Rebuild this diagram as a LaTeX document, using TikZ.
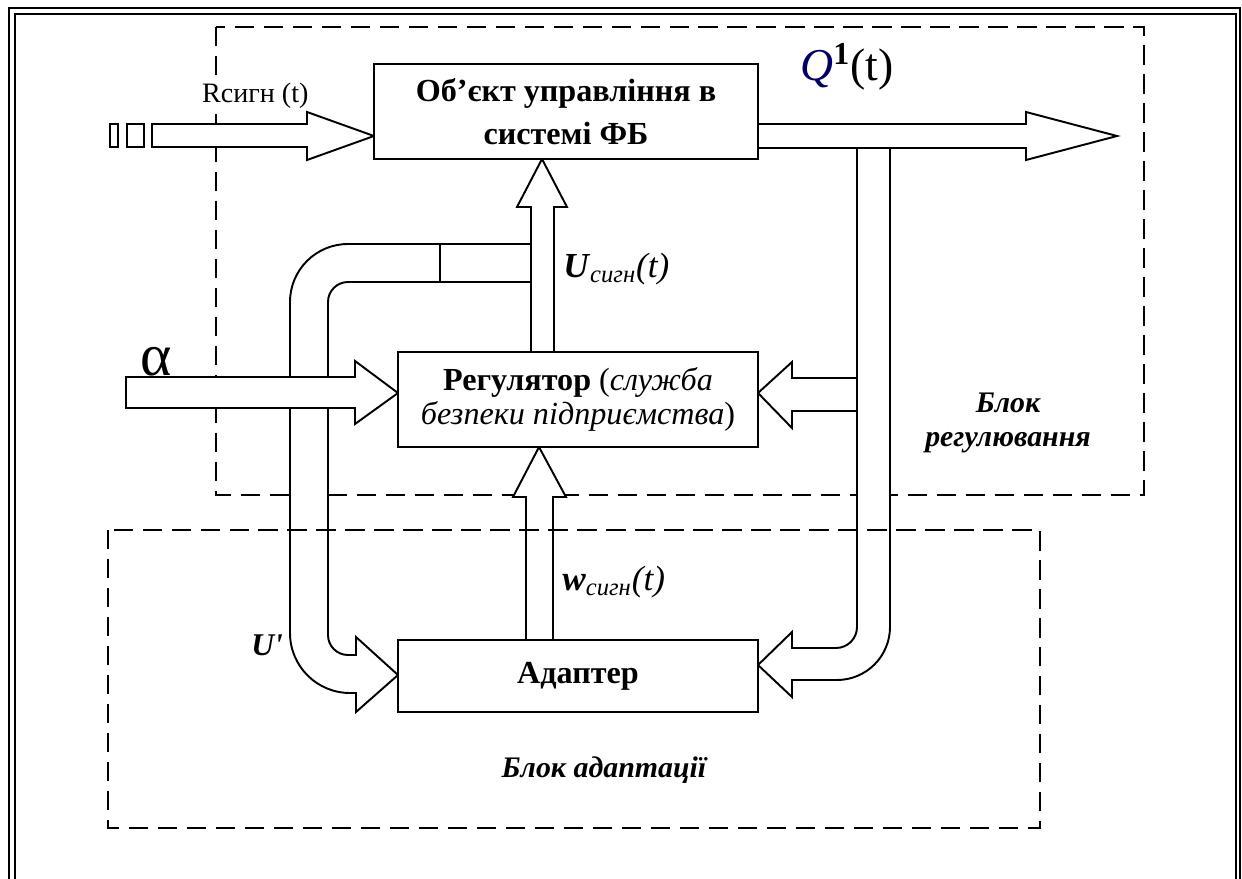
\documentclass[tikz,border=0pt]{standalone}
\usepackage{fontspec}
\setmainfont{Liberation Serif}
\usetikzlibrary{calc}
\tikzset{
  blk/.style={draw, fill=white, line width=1.1pt, inner sep=0pt, align=center},
  fat/.style={draw, fill=white, line width=1.1pt, line join=miter},
  zone/.style={line width=1.1pt, dash pattern=on 11pt off 5.5pt},
  lbl/.style={inner sep=0pt, anchor=base west},
}

\begin{document}
\begin{tikzpicture}[x=0.02cm,y=-0.02cm]
\useasboundingbox (0,0) rectangle (1242,879);
% frame
\draw[line width=1pt] (9,879)--(9,8)--(1240,8)--(1240,879);
\draw[line width=1pt] (15,879)--(15,14)--(1236,14)--(1236,879);
% control block
\draw[zone] (216,27) rectangle (1144,495);
% feedback pipes
\draw[fat] (531,244) -- (348,244) arc (270:180:58) -- (290,633) arc (180:90:60)
  -- (356,693) -- (356,712) -- (398,675) -- (356,637) -- (356,655) -- (348,655)
  arc (90:180:20) -- (328,302) arc (180:270:20) -- (531,282) -- cycle;
\draw[line width=1.1pt] (440,244) -- (440,282);
\draw[fat] (857,148) -- (890,148) -- (890,627) arc (0:90:53) -- (792,680)
  -- (792,697) -- (758,665) -- (792,632) -- (792,648) -- (836,648)
  arc (90:0:21) -- cycle;
\draw[fat] (857,378) -- (792,378) -- (792,362) -- (758,393) -- (792,428) -- (792,411) -- (857,411) -- cycle;
% inputs and output
\draw[fat] (110,124) rectangle (118,147);
\draw[fat] (127,124) rectangle (144,147);
\draw[fat] (152,124) -- (307,124) -- (307,112) -- (374,136) -- (307,160) -- (307,147) -- (152,147) -- cycle;
\draw[fat] (758,124) -- (1026,124) -- (1026,112) -- (1117,136) -- (1026,160) -- (1026,148) -- (758,148) -- cycle;
\draw[fat] (126,377) -- (355,377) -- (355,361) -- (398,393) -- (355,424) -- (355,408) -- (126,408) -- cycle;
% vertical signals
\draw[fat] (531,352) -- (531,207) -- (517,207) -- (542,159) -- (567,207) -- (554,207) -- (554,352) -- cycle;
\draw[fat] (526,640) -- (526,497) -- (513,497) -- (539,447) -- (566,497) -- (553,497) -- (553,640) -- cycle;
% blocks
\node[blk, minimum width=7.68cm, minimum height=1.9cm,
  font=\fontsize{18.3}{24.5}\selectfont\bfseries] (obj) at (566,111.5)
  {Об’єкт управління в\\системі ФБ};
\node[blk, minimum width=7.2cm, minimum height=1.9cm,
  font=\fontsize{18.3}{19.5}\selectfont] (reg) at (578,399.5)
  {\textbf{Регулятор} (\textit{служба}\\\textit{безпеки підприємства})};
\node[blk, minimum width=7.2cm, minimum height=1.44cm,
  font=\fontsize{18.3}{20}\selectfont\bfseries] (adapt) at (578,676) {Адаптер};
% adaptation block
\draw[zone] (108,530) rectangle (1040,828);
% labels
\node[lbl, fill=white, inner sep=1pt, font=\fontsize{16}{16}\selectfont] (rsig) at (200,102) {Rсигн (t)};
\node[lbl, font=\fontsize{26}{26}\selectfont] (qsig) at (800,80)
  {{\itshape\color{blue!40!black}Q}\textsuperscript{\bfseries 1}(t)};
\node[lbl, font=\fontsize{34}{34}\selectfont] (alpha) at (140,375) {α};
\node[lbl, font=\fontsize{20}{20}\selectfont] (usig) at (563,277)
  {\textbf{\textit{U}}\textsubscript{\itshape сигн}\textit{(t)}};
\node[lbl, font=\fontsize{20}{20}\selectfont] (wsig) at (562,590)
  {\textbf{\textit{w}}\textsubscript{\itshape сигн}\textit{(t)}};
\node[lbl, font=\fontsize{18}{18}\selectfont\bfseries\itshape] (uprime) at (251,655) {U\textquotesingle};
\node[align=center, inner sep=0pt, font=\fontsize{17}{19}\selectfont\bfseries\itshape]
  (zreg) at (1008,423) {Блок\\регулювання};
\node[inner sep=0pt, font=\fontsize{17}{19}\selectfont\bfseries\itshape]
  (zad) at (604,770) {Блок адаптації};
\end{tikzpicture}
\end{document}
